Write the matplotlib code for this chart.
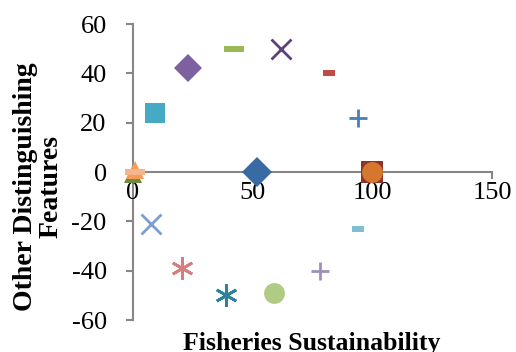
import matplotlib

matplotlib.use("Agg")
import matplotlib.pyplot as plt
from matplotlib.path import Path

plt.rcParams["font.family"] = ["Liberation Serif", "DejaVu Serif"]
plt.rcParams["axes.unicode_minus"] = False

# one point per series, in series order
x_vals = [52, 100, 0, 62, 39, 100, 94, 82, 42, 23, 9, 1, 7.5, 20.5, 59, 78, 94, 1]
y_vals = [0, 0, -1, 50, -50, 0, 22, 40, 50, 42, 24, 1, -21, -39, -49, -40, -23, 0]

colors = [
    "#386aa3", "#8e3230", "#6f8a3c", "#5c4479", "#2f8299", "#d5782e",
    "#4a7ebb", "#be4b48", "#98b954", "#7d60a0", "#46aac4", "#f59d56",
    "#7c9fd0", "#d47f7d", "#b0cb84", "#a08ebc", "#7dc0d4", "#f8b48a",
]


def dash_path(h):
    return Path([(-1, -h), (1, -h), (1, h), (-1, h), (-1, -h)],
                [1, 2, 2, 2, 79])


short_dash = dash_path(0.5)
long_dash = dash_path(0.28)
markers = ["D", "s", "^", "x", (6, 2, 0), "o", "+", short_dash, long_dash,
           "D", "s", "^", "x", (6, 2, 0), "o", "+", short_dash, long_dash]
sizes = [15, 16, 13, 14, 16, 15, 13, 8, 15, 14, 15, 13, 14, 16, 15, 13, 8.5, 14]
line_markers = {"x", "+"}

fig = plt.figure(figsize=(5.16, 3.52), dpi=100)
ax = fig.add_axes([0.2578, 0.0909, 0.6957, 0.8409])

for i, (x, y) in enumerate(zip(x_vals, y_vals)):
    m = markers[i]
    if m in line_markers or isinstance(m, tuple):
        ax.plot(x, y, marker=m, ms=sizes[i], mew=2, color=colors[i],
                linestyle="none", clip_on=False)
    else:
        ax.plot(x, y, marker=m, ms=sizes[i], mew=0, color=colors[i],
                linestyle="none", clip_on=False)

ax.set_xlim(0, 150)
ax.set_ylim(-60, 60)
ax.set_xticks([0, 50, 100, 150])
ax.set_yticks(range(-60, 61, 20))

axis_gray = "#868686"
for side in ["top", "right"]:
    ax.spines[side].set_visible(False)
ax.spines["left"].set_position(("data", 0))
ax.spines["bottom"].set_position(("data", 0))
for side in ["left", "bottom"]:
    ax.spines[side].set_color(axis_gray)
    ax.spines[side].set_linewidth(1.5)
    ax.spines[side].set_zorder(0)
ax.tick_params(axis="both", direction="out", length=5, width=1.5,
               color=axis_gray, labelsize=19, labelcolor="black")
ax.tick_params(axis="y", pad=14)
ax.tick_params(axis="x", pad=2)

fig.text(0.605, 0.006, "Fisheries Sustainability", fontsize=18.5,
         fontweight="bold", ha="center", va="baseline")
fig.text(0.074, 0.469, "Other Distinguishing\nFeatures", fontsize=20,
         fontweight="bold", ha="center", va="center", rotation=90,
         multialignment="center", linespacing=1.0)

fig.savefig("out.png", dpi=100)
